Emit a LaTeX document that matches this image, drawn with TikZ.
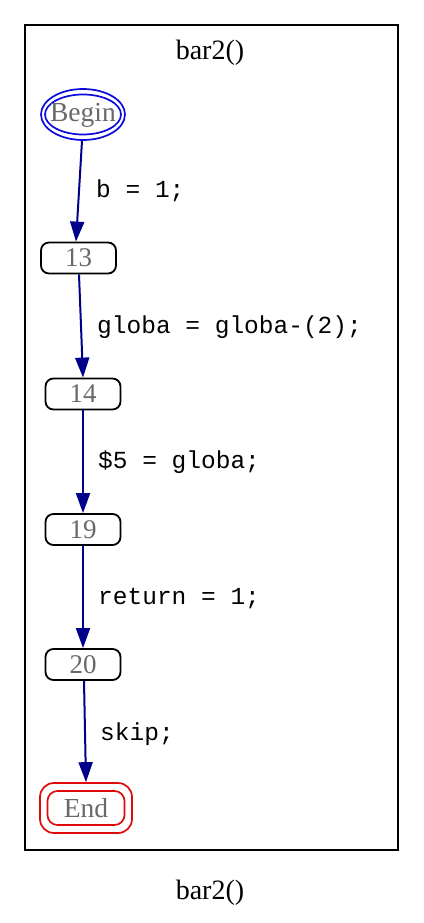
\documentclass[tikz,border=0pt]{standalone}
\usepackage{fontspec}
\setmainfont{Liberation Serif}
\newfontfamily\codefont{Liberation Mono}
\usetikzlibrary{arrows.meta,shapes.geometric}
\definecolor{txtgray}{RGB}{105,105,105}
\definecolor{edgeblue}{RGB}{0,0,139}
\definecolor{beginblue}{RGB}{10,10,220}
\definecolor{endred}{RGB}{225,10,10}
\tikzset{
  stmt/.style={draw=black, line width=1.8pt, rounded corners=8pt, minimum width=75pt, minimum height=31pt, inner sep=0pt, text=txtgray, font=\fontsize{27}{30}\selectfont},
  flow/.style={draw=edgeblue, line width=2pt, -{Triangle[length=20pt,width=14pt]}},
  elabel/.style={anchor=base west, inner sep=0pt, font=\codefont\fontsize{24.5}{28}\selectfont, text=black},
  title/.style={inner sep=0pt, anchor=base, font=\fontsize{28}{32}\selectfont},
  nodetext/.style={inner sep=0pt, text=txtgray, font=\fontsize{27.5}{30}\selectfont}
}
\begin{document}
\begin{tikzpicture}[x=1pt,y=-1pt]
\useasboundingbox (0,0) rectangle (423,923);
\draw[line width=2pt] (25,25) rectangle (398,850);
\node[title] (t1) at (210,60) {bar2()};
\node[title] (t2) at (210,899) {bar2()};
% Begin
\node[ellipse, draw=beginblue, line width=1.7pt, minimum width=84pt, minimum height=51pt, inner sep=0pt] (begin) at (83,114.5) {};
\node[ellipse, draw=beginblue, line width=1.7pt, minimum width=76pt, minimum height=40pt, inner sep=0pt] (beginin) at (83,114.5) {};
\node[nodetext] (begintext) at (83,115) {Begin};
% statements
\node[stmt] (n13) at (78.5,258) {13};
\node[stmt] (n14) at (83,394) {14};
\node[stmt] (n19) at (83,529.5) {19};
\node[stmt] (n20) at (83,664.5) {20};
% End
\node[draw=endred, line width=1.7pt, rounded corners=14pt, minimum width=92pt, minimum height=50pt, inner sep=0pt] (end) at (86,808) {};
\node[draw=endred, line width=1.7pt, rounded corners=10pt, minimum width=77pt, minimum height=34pt, inner sep=0pt] (endin) at (86,808) {};
\node[nodetext] (endtext) at (86,808) {End};
% edges
\draw[flow] ([xshift=-1pt]begin.south) -- ([xshift=-2.5pt]n13.north);
\draw[flow] ([xshift=0.5pt]n13.south) -- (n14.north);
\draw[flow] (n14.south) -- (n19.north);
\draw[flow] (n19.south) -- (n20.north);
\draw[flow] ([xshift=1pt]n20.south) -- ([xshift=0pt]end.north);
% labels
\node[elabel] (l1) at (96,197) {b = 1;};
\node[elabel] (l2) at (97,333) {globa = globa-(2);};
\node[elabel] (l3) at (98,468) {\$5 = globa;};
\node[elabel] (l4) at (98,604) {return = 1;};
\node[elabel] (l5) at (100,740) {skip;};
\end{tikzpicture}
\end{document}
